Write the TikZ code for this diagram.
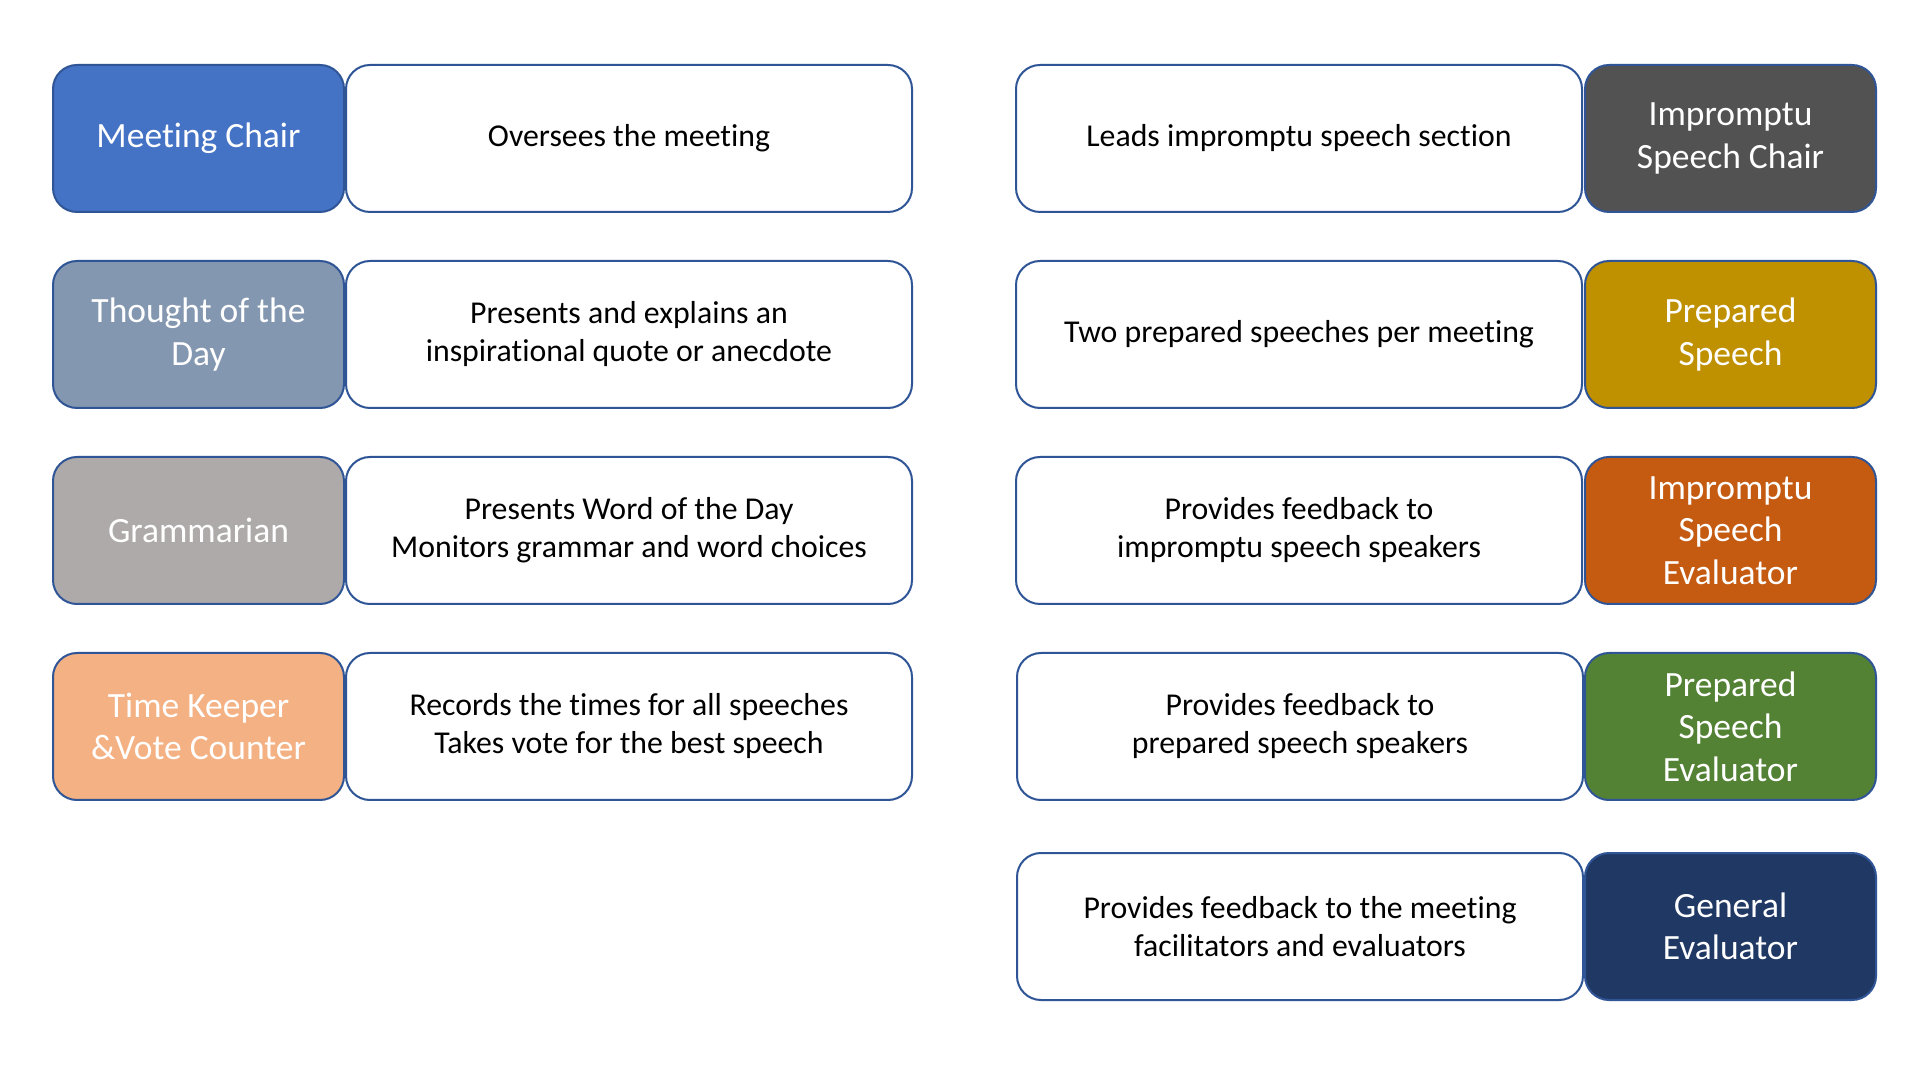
\documentclass[tikz,border=0pt]{standalone}
\usepackage{fontspec}
\setmainfont[Ligatures=NoCommon]{Carlito}
\definecolor{bordc}{HTML}{2F5597}
\definecolor{cMC}{HTML}{4472C4}
\definecolor{cTD}{HTML}{8497B0}
\definecolor{cGR}{HTML}{AEAAAA}
\definecolor{cTK}{HTML}{F4B183}
\definecolor{cIC}{HTML}{525252}
\definecolor{cPS}{HTML}{BF9000}
\definecolor{cIE}{HTML}{C55A11}
\definecolor{cPE}{HTML}{548235}
\definecolor{cGE}{HTML}{203864}
\begin{document}
\begin{tikzpicture}[x=1pt,y=1pt,
  card/.style={draw=bordc, line width=2pt, rounded corners=24pt, inner sep=0pt, outer sep=0pt,
    minimum height=147pt, align=center, anchor=center},
  role/.style={card, minimum width=291pt, text=white, font=\fontsize{35.5}{42.5}\selectfont},
  desc/.style={card, fill=white, minimum width=566pt, text=black, font=\fontsize{31.8}{38}\selectfont}]
\useasboundingbox[fill=white] (0,0) rectangle (1920,1080);
% left column
\node[role, fill=cMC] (mc) at (198.5,941.5) {Meeting Chair};
\node[desc] (mcd) at (629,941.5) {Oversees the meeting};
\node[role, fill=cTD] (td) at (198.5,745.5) {Thought of the\\Day};
\node[desc] (tdd) at (629,745.5) {Presents and explains an\\inspirational quote or anecdote};
\node[role, fill=cGR] (gr) at (198.5,549.5) {Grammarian};
\node[desc] (grd) at (629,549.5) {Presents Word of the Day\\Monitors grammar and word choices};
\node[role, fill=cTK] (tk) at (198.5,353.5) {Time Keeper\\\&Vote Counter};
\node[desc] (tkd) at (629,353.5) {Records the times for all speeches\\Takes vote for the best speech};
% right column
\node[desc] (icd) at (1299,941.5) {Leads impromptu speech section};
\node[role, fill=cIC] (ic) at (1730.5,941.5) {Impromptu\\Speech Chair};
\node[desc] (psd) at (1299,745.5) {Two prepared speeches per meeting};
\node[role, fill=cPS] (ps) at (1730.5,745.5) {Prepared\\Speech};
\node[desc] (ied) at (1299,549.5) {Provides feedback to\\impromptu speech speakers};
\node[role, fill=cIE] (ie) at (1730.5,549.5) {Impromptu\\Speech\\Evaluator};
\node[desc] (ped) at (1300,353.5) {Provides feedback to\\prepared speech speakers};
\node[role, fill=cPE] (pe) at (1730.5,353.5) {Prepared\\Speech\\Evaluator};
\node[desc] (ged) at (1300,153.5) {Provides feedback to the meeting\\facilitators and evaluators};
\node[role, fill=cGE] (ge) at (1730.5,153.5) {General\\Evaluator};
\end{tikzpicture}
\end{document}
